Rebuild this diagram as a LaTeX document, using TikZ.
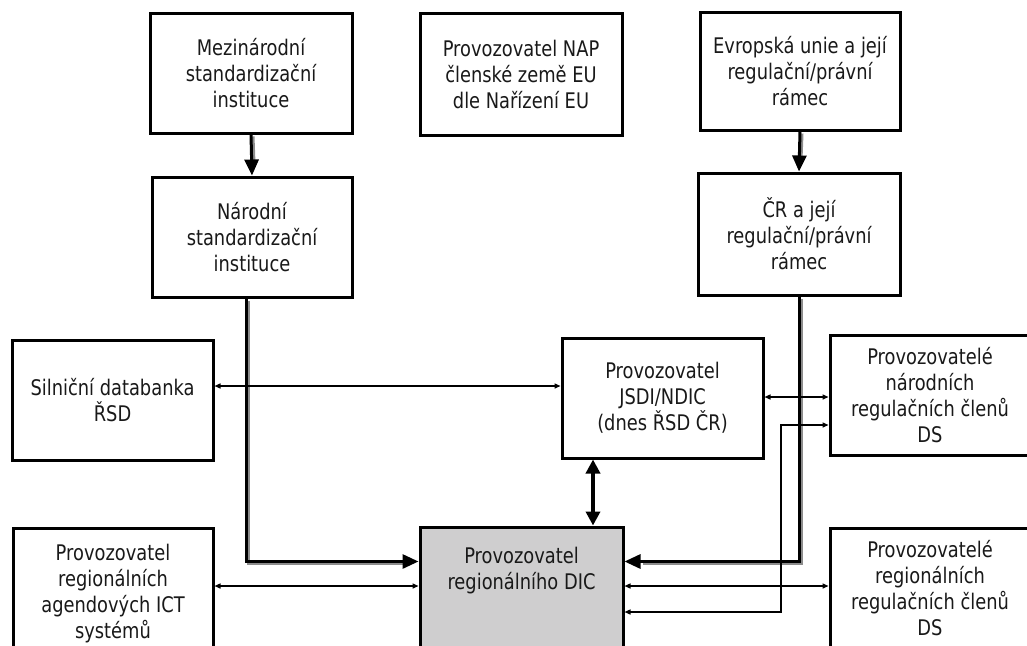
\documentclass[tikz,border=0pt]{standalone}
\usepackage{fontspec}
\usetikzlibrary{arrows.meta,calc}
\newfontfamily\boxfont[FakeStretch=0.83]{DejaVu Sans}
\definecolor{dicfill}{RGB}{207,206,207}
\definecolor{shade}{RGB}{140,140,140}
\definecolor{txt}{RGB}{25,25,25}
\begin{document}
\begin{tikzpicture}[x=1pt,y=-1pt,
  box/.style={draw, line width=3pt, minimum width=200pt, minimum height=120pt,
    align=center, inner sep=0pt, text=txt,
    font=\boxfont\fontsize{21.5}{26}\selectfont},
  label/.style={align=center, inner sep=0pt, text=txt,
    font=\boxfont\fontsize{21.5}{26}\selectfont},
  bigtip/.style={-{Triangle[length=16pt,width=14pt]}},
  main/.style={line width=3pt, bigtip},
  mainshade/.style={line width=3pt, draw=shade, transform canvas={shift={(2pt,-2pt)}}},
  thin/.style={line width=1.4pt, {Triangle[length=6pt,width=5pt]}-{Triangle[length=6pt,width=5pt]}}
]
\useasboundingbox (0,0) rectangle (1027,645);
\clip (0,0) rectangle (1027,645);

% --- boxes ---
\node[box, minimum width=202pt] (mez) at (251,73) {Mezinárodní\\standardizační\\instituce};
\node[box, minimum width=202pt, minimum height=122pt] (nap) at (521,74) {Provozovatel NAP\\členské země EU\\dle Nařízení EU};
\node[box, minimum height=118pt] (eu) at (800,71) {Evropská unie a její\\regulační/právní\\rámec};
\node[box] (nar) at (252,237) {Národní\\standardizační\\instituce};
\node[box, minimum width=202pt, minimum height=122pt] (cr) at (799,234) {ČR a její\\regulační/právní\\rámec};
\node[box, minimum width=201pt] (sil) at (112.5,400) {Silniční databanka\\ŘSD};
\node[box, minimum width=201pt] (jsdi) at (662.5,398) {Provozovatel\\JSDI/NDIC\\(dnes ŘSD ČR)};
\node[box] (narc) at (930,395) {Provozovatelé\\národních\\regulačních členů\\DS};
\node[box, minimum height=132pt] (agd) at (113,594) {Provozovatel\\regionálních\\agendových ICT\\systémů};
\node[box] (regc) at (930,588) {Provozovatelé\\regionálních\\regulačních členů\\DS};
\node[box, fill=dicfill, minimum width=203pt, minimum height=133pt] (dic) at (521.5,593.5) {};
\node[label] (dictext) at (521.5,571) {Provozovatel\\regionálního DIC};

% entry points of the two main flows into the regional DIC
\coordinate (dinL) at ($(dic.north west)+(0,36)$);
\coordinate (dinR) at ($(dic.north east)+(0,36)$);

% --- standards and regulation flows (heavy lines with shadow) ---
\draw[mainshade] (mez.south) -- ($(nar.north)+(0,-14)$);
\draw[main] (mez.south) -- (nar.north);
\draw[mainshade] (eu.south) -- ($(cr.north)+(0,-14)$);
\draw[main] (eu.south) -- (cr.north);

\draw[mainshade] ($(nar.south)+(-6,0)$) |- ($(dinL)+(-16,0)$);
\draw[main] ($(nar.south)+(-6,0)$) |- (dinL);
\draw[mainshade] (cr.south) |- ($(dinR)+(16,0)$);
\draw[main] (cr.south) |- (dinR);

% --- JSDI/NDIC <-> regional DIC ---
\draw[line width=3.5pt, {Triangle[length=14pt,width=14pt]}-{Triangle[length=14pt,width=14pt]}]
  (jsdi.south -| 593,0) -- (dic.north -| 593,0);

% --- data exchanges ---
\draw[thin] (sil.east |- 0,386) -- (jsdi.west |- 0,386);
\draw[thin] (jsdi.east |- 0,397) -- (narc.west |- 0,397);
\draw[thin] (agd.east |- 0,586) -- (dic.west |- 0,586);
\draw[thin] (dic.east |- 0,586) -- (regc.west |- 0,586);
\draw[thin] (dic.east |- 0,612) -| (781,425) -- (narc.west |- 0,425);
\end{tikzpicture}
\end{document}
